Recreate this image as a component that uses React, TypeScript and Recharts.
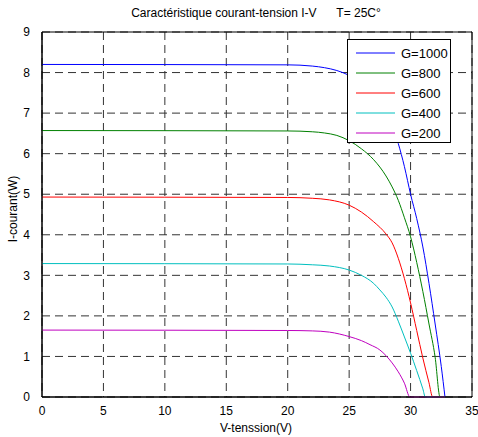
import React from 'react';
import { LineChart, Line, XAxis, YAxis, CartesianGrid, Legend, ReferenceArea } from 'recharts';

// tension (V) / courant (A) pour chaque irradiance
const v1000 = [0, 20, 22, 23, 24, 25, 26, 27, 28, 29, 29.5, 30, 30.5, 31, 31.5, 32, 32.5, 32.8];
const i1000 = [8.2, 8.19, 8.16, 8.12, 8.05, 7.93, 7.74, 7.45, 7.0, 6.25, 5.68, 5.0, 4.4, 3.7, 2.8, 1.8, 0.75, 0];

const v800 = [0, 20, 22, 23, 24, 25, 26, 27, 28, 28.5, 29, 29.5, 30, 30.5, 31, 31.5, 32, 32.4, 32.8];
const i800 = [6.57, 6.56, 6.54, 6.51, 6.45, 6.32, 6.12, 5.85, 5.45, 5.18, 4.85, 4.42, 3.95, 3.32, 2.6, 1.8, 0.98, 0, 0];

const v600 = [0, 20, 22, 23.4, 25, 26, 27, 28, 28.5, 29, 29.5, 30, 30.5, 31, 31.5, 31.8, 32.8];
const i600 = [4.93, 4.92, 4.9, 4.86, 4.73, 4.56, 4.32, 4.02, 3.8, 3.42, 2.92, 2.32, 1.64, 0.96, 0.35, 0, 0];

const v400 = [0, 20, 22, 23.4, 25, 26, 27, 27.5, 28, 28.5, 29, 29.5, 30, 30.5, 31, 31.2, 32.8];
const i400 = [3.29, 3.28, 3.26, 3.23, 3.13, 3.0, 2.8, 2.64, 2.46, 2.22, 1.87, 1.48, 1.08, 0.65, 0.2, 0, 0];

const v200 = [0, 20, 22, 23.4, 25, 26, 26.7, 27.5, 28, 28.5, 29, 29.5, 29.95, 32.8];
const i200 = [1.65, 1.64, 1.63, 1.6, 1.49, 1.39, 1.29, 1.16, 1.02, 0.84, 0.62, 0.34, 0, 0];

const xTicks = [0, 5, 10, 15, 20, 25, 30, 35];
const yTicks = [0, 1, 2, 3, 4, 5, 6, 7, 8, 9];

const toPoints = (v: number[], i: number[]) => v.map((x, k) => ({ v: x, i: i[k] }));

const series = [
  { name: 'G=1000', color: '#0000ff', data: toPoints(v1000, i1000) },
  { name: 'G=800', color: '#008000', data: toPoints(v800, i800) },
  { name: 'G=600', color: '#ff0000', data: toPoints(v600, i600) },
  { name: 'G=400', color: '#00bfbf', data: toPoints(v400, i400) },
  { name: 'G=200', color: '#bf00bf', data: toPoints(v200, i200) },
];

const font = 'Arial, "Liberation Sans", sans-serif';

const LegendBox = () => (
  <div
    style={{
      width: 104,
      height: 104,
      border: '1px solid #000',
      background: '#fff',
      fontFamily: font,
      fontSize: 13,
      boxSizing: 'border-box',
      paddingTop: 3,
    }}
  >
    {series.map((s) => (
      <div key={s.name} style={{ display: 'flex', alignItems: 'center', height: 20 }}>
        <svg width={53} height={6} style={{ flex: 'none' }}>
          <line x1={8} x2={47} y1={3} y2={3} stroke={s.color} strokeWidth={1} />
        </svg>
        <span style={{ color: '#000' }}>{s.name}</span>
      </div>
    ))}
  </div>
);

export default function App() {
  return (
    <div style={{ position: 'absolute', left: 0, top: 0, width: 478, height: 437, background: '#fff' }}>
      <div
        style={{
          position: 'absolute',
          top: 6,
          left: 0,
          width: 512,
          textAlign: 'center',
          fontFamily: font,
          fontSize: 12,
          whiteSpace: 'pre',
        }}
      >
        {'Caractéristique courant-tension I-V      T= 25C°'}
      </div>
      <LineChart width={478} height={437} margin={{ top: 32, right: 6, bottom: 0, left: 0 }}>
        <CartesianGrid stroke="#333" strokeDasharray="8 5" />
        <XAxis
          type="number"
          dataKey="v"
          domain={[0, 35]}
          ticks={xTicks}
          height={40}
          tickLine={false}
          axisLine={{ stroke: '#000' }}
          tick={{ fill: '#000', fontSize: 12, fontFamily: font }}
          tickMargin={3}
          allowDataOverflow
          label={{
            content: () => (
              <text x={256} y={432} textAnchor="middle" fontSize={12} fontFamily={font} fill="#000">
                V-tenssion(V)
              </text>
            ),
          }}
        />
        <YAxis
          type="number"
          domain={[0, 9]}
          ticks={yTicks}
          width={42}
          tickLine={false}
          axisLine={{ stroke: '#000' }}
          tick={{ fill: '#000', fontSize: 12, fontFamily: font }}
          tickMargin={6}
          label={{
            content: () => (
              <text
                x={17}
                y={209}
                textAnchor="middle"
                fontSize={12}
                fontFamily={font}
                fill="#000"
                transform="rotate(-90 17 209)"
              >
                I-courant(W)
              </text>
            ),
          }}
        />
        <ReferenceArea x1={0} x2={35} y1={0} y2={9} fill="none" stroke="#000" strokeWidth={1} />
        {series.map((s) => (
          <Line
            key={s.name}
            data={s.data}
            dataKey="i"
            name={s.name}
            type="monotone"
            stroke={s.color}
            strokeWidth={1}
            dot={false}
            isAnimationActive={false}
          />
        ))}
        <Legend
          layout="horizontal"
          verticalAlign="middle"
          align="center"
          content={() => <LegendBox />}
          wrapperStyle={{ top: 39, left: 347, width: 104 }}
        />
      </LineChart>
    </div>
  );
}
